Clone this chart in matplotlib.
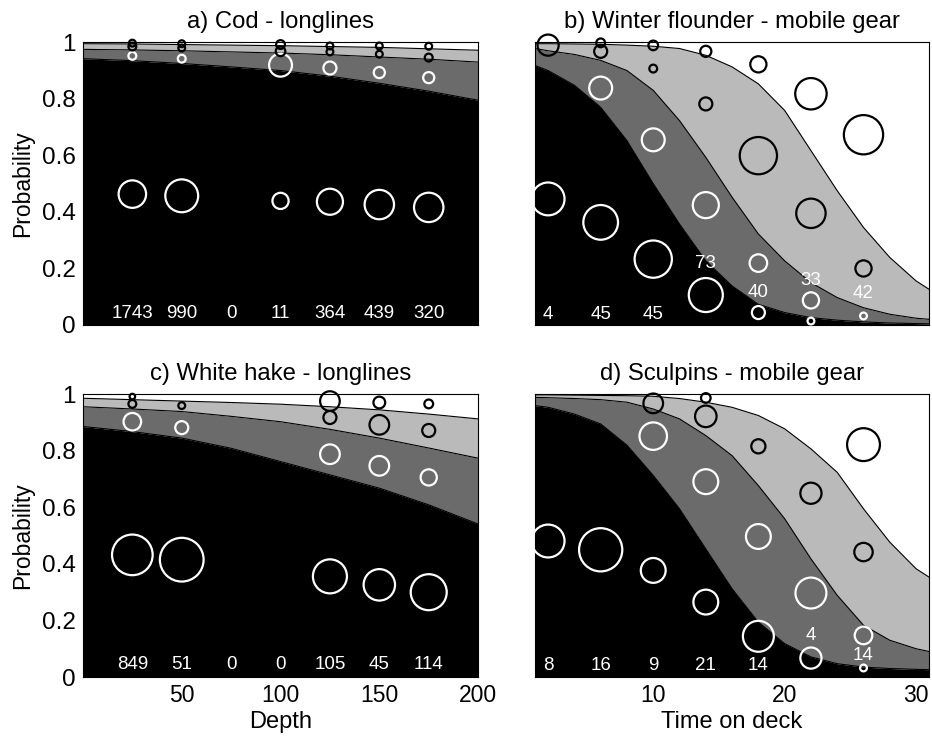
"""
Vitality-class probabilities vs depth (longlines) and time on deck (mobile gear).
Stacked bands = fitted cumulative probabilities, circles = observed class shares,
numbers = sample size per bin.
"""
import numpy as np
import matplotlib.pyplot as plt

plt.rcParams["font.family"] = ["Liberation Sans", "DejaVu Sans"]

# x grids of the fitted curves
DEPTH_GRID = [0, 25, 50, 75, 100, 125, 150, 175, 200]
TIME_GRID = [1, 2, 4, 6, 8, 10, 12, 14, 16, 18, 20, 22, 24, 26, 28, 30, 31]

# ---- a) Cod - longlines ----
cod_cum1 = [0.942, 0.935, 0.925, 0.913, 0.900, 0.880, 0.855, 0.827, 0.795]
cod_cum2 = [0.975, 0.973, 0.970, 0.966, 0.962, 0.956, 0.948, 0.940, 0.930]
cod_cum3 = [0.995, 0.994, 0.992, 0.990, 0.988, 0.985, 0.982, 0.977, 0.972]
cod_bins = [25, 50, 75, 100, 125, 150, 175]
cod_n = ["1743", "990", "0", "11", "364", "439", "320"]
cod_n_y = [0.041] * 7
cod_obs_x = [25, 50, 100, 125, 150, 175]
cod_obs_y = [
    [0.463, 0.457, 0.439, 0.436, 0.426, 0.416],
    [0.952, 0.942, 0.919, 0.909, 0.893, 0.875],
    [0.985, 0.980, 0.968, 0.966, 0.958, 0.946],
    [0.997, 0.995, 0.992, 0.987, 0.987, 0.986],
]
cod_obs_share = [
    [0.49, 0.70, 0.17, 0.44, 0.56, 0.56],
    [0.04, 0.04, 0.34, 0.11, 0.08, 0.08],
    [0.04, 0.03, 0.06, 0.03, 0.03, 0.04],
    [0.03, 0.03, 0.05, 0.03, 0.03, 0.03],
]

# ---- b) Winter flounder - mobile gear ----
wfl_cum1 = [0.918, 0.900, 0.848, 0.770, 0.652, 0.500, 0.357, 0.227, 0.138,
            0.073, 0.044, 0.026, 0.017, 0.011, 0.007, 0.005, 0.004]
wfl_cum2 = [0.978, 0.970, 0.957, 0.936, 0.900, 0.830, 0.723, 0.593, 0.452,
            0.322, 0.227, 0.150, 0.097, 0.061, 0.038, 0.024, 0.020]
wfl_cum3 = [0.995, 0.995, 0.994, 0.993, 0.990, 0.986, 0.978, 0.954, 0.913,
            0.853, 0.759, 0.617, 0.475, 0.345, 0.239, 0.156, 0.126]
wfl_bins = [2, 6, 10, 14, 18, 22, 26]
wfl_n = ["4", "45", "45", "73", "40", "33", "42"]
wfl_n_y = [0.038, 0.038, 0.038, 0.217, 0.115, 0.158, 0.112]
wfl_obs_x = [2, 6, 10, 14, 18, 22, 26]
nan = np.nan
wfl_obs_y = [
    [0.446, 0.363, 0.233, 0.106, 0.044, 0.014, 0.032],
    [nan, 0.838, 0.655, 0.424, 0.219, 0.087, nan],
    [nan, 0.968, 0.907, 0.782, 0.599, 0.395, 0.200],
    [0.990, 0.998, 0.989, 0.968, 0.922, 0.818, 0.673],
]
wfl_obs_share = [
    [0.70, 0.78, 0.90, 0.75, 0.11, 0.03, 0.03],
    [nan, 0.34, 0.34, 0.44, 0.20, 0.17, nan],
    [nan, 0.11, 0.04, 0.11, 0.90, 0.56, 0.17],
    [0.29, 0.05, 0.06, 0.08, 0.17, 0.64, 1.00],
]

# ---- c) White hake - longlines ----
whk_cum1 = [0.886, 0.868, 0.845, 0.809, 0.762, 0.715, 0.668, 0.609, 0.541]
whk_cum2 = [0.956, 0.948, 0.939, 0.922, 0.903, 0.876, 0.845, 0.810, 0.774]
whk_cum3 = [0.986, 0.981, 0.976, 0.971, 0.965, 0.956, 0.945, 0.930, 0.913]
whk_bins = [25, 50, 75, 100, 125, 150, 175]
whk_n = ["849", "51", "0", "0", "105", "45", "114"]
whk_n_y = [0.044] * 7
whk_obs_x = [25, 50, 125, 150, 175]
whk_obs_y = [
    [0.432, 0.415, 0.356, 0.326, 0.300],
    [0.903, 0.882, 0.788, 0.747, 0.706],
    [0.966, 0.960, 0.918, 0.892, 0.872],
    [0.992, nan, 0.976, 0.971, 0.966],
]
whk_obs_share = [
    [1.07, 1.24, 0.75, 0.64, 0.84],
    [0.20, 0.11, 0.25, 0.25, 0.17],
    [0.04, 0.03, 0.11, 0.25, 0.11],
    [0.02, nan, 0.25, 0.09, 0.05],
]

# ---- d) Sculpins - mobile gear ----
scu_cum1 = [0.960, 0.954, 0.930, 0.895, 0.820, 0.713, 0.595, 0.453, 0.312,
            0.194, 0.118, 0.071, 0.047, 0.035, 0.030, 0.027, 0.026]
scu_cum2 = [0.989, 0.988, 0.985, 0.981, 0.972, 0.948, 0.913, 0.854, 0.783,
            0.677, 0.560, 0.418, 0.289, 0.183, 0.130, 0.100, 0.090]
scu_cum3 = [0.998, 0.998, 0.997, 0.996, 0.995, 0.993, 0.985, 0.972, 0.954,
            0.925, 0.878, 0.807, 0.724, 0.595, 0.477, 0.383, 0.353]
scu_bins = [2, 6, 10, 14, 18, 22, 26]
scu_n = ["8", "16", "9", "21", "14", "4", "14"]
scu_n_y = [0.041, 0.041, 0.041, 0.041, 0.041, 0.147, 0.077]
scu_obs_x = [2, 6, 10, 14, 18, 22, 26]
scu_obs_y = [
    [0.481, 0.450, 0.377, 0.265, 0.144, 0.067, 0.032],
    [nan, nan, 0.852, 0.691, 0.497, 0.297, 0.147],
    [nan, nan, 0.968, 0.922, 0.816, 0.650, 0.442],
    [nan, nan, nan, 0.987, nan, nan, 0.822],
]
scu_obs_share = [
    [0.70, 1.21, 0.40, 0.40, 0.62, 0.29, 0.03],
    [nan, nan, 0.49, 0.40, 0.40, 0.62, 0.20],
    [nan, nan, 0.25, 0.30, 0.13, 0.29, 0.22],
    [nan, nan, nan, 0.06, nan, nan, 0.70],
]

BAND_COLORS = ["#000000", "#6b6b6b", "#bababa"]
CLASS_EDGE = ["white", "white", "black", "black"]
MARKER_SCALE = 800  # points^2 for share == 1


def draw_panel(ax, grid, cums, bins, n_labels, n_y, obs_x, obs_y, obs_share):
    grid = np.asarray(grid, dtype=float)
    lower = np.zeros_like(grid)
    for cum, col in zip(cums, BAND_COLORS):
        upper = np.asarray(cum, dtype=float)
        ax.fill_between(grid, lower, upper, color=col, linewidth=0, zorder=1)
        lower = upper
    for cum in cums:
        ax.plot(grid, cum, color="black", linewidth=0.8, zorder=2)

    for k in range(4):
        y = np.asarray(obs_y[k], dtype=float)
        s = np.asarray(obs_share[k], dtype=float) * MARKER_SCALE
        ok = ~np.isnan(y)
        ax.scatter(np.asarray(obs_x)[ok], y[ok], s=s[ok], facecolors="none",
                   edgecolors=CLASS_EDGE[k], linewidths=1.6, zorder=4,
                   clip_on=False)

    for x, lab, y in zip(bins, n_labels, n_y):
        ax.text(x, y, lab, color="white", fontsize=13.5, ha="center",
                va="center", zorder=5)

    ax.set_ylim(0, 1)
    ax.set_facecolor("white")
    ax.tick_params(length=0)
    ax.tick_params(axis="x", labelsize=16.5, pad=5)
    ax.tick_params(axis="y", labelsize=17.5, pad=5)
    for sp in ax.spines.values():
        sp.set_linewidth(0.8)
        sp.set_zorder(3)


def main() -> None:
    fig = plt.figure(figsize=(9.32, 7.42), dpi=100)
    ax_a = fig.add_axes([0.089, 0.562, 0.424, 0.381])
    ax_b = fig.add_axes([0.574, 0.562, 0.423, 0.381])
    ax_c = fig.add_axes([0.089, 0.0876, 0.424, 0.381])
    ax_d = fig.add_axes([0.574, 0.0876, 0.423, 0.381])

    draw_panel(ax_a, DEPTH_GRID, [cod_cum1, cod_cum2, cod_cum3], cod_bins,
               cod_n, cod_n_y, cod_obs_x, cod_obs_y, cod_obs_share)
    draw_panel(ax_b, TIME_GRID, [wfl_cum1, wfl_cum2, wfl_cum3], wfl_bins,
               wfl_n, wfl_n_y, wfl_obs_x, wfl_obs_y, wfl_obs_share)
    draw_panel(ax_c, DEPTH_GRID, [whk_cum1, whk_cum2, whk_cum3], whk_bins,
               whk_n, whk_n_y, whk_obs_x, whk_obs_y, whk_obs_share)
    draw_panel(ax_d, TIME_GRID, [scu_cum1, scu_cum2, scu_cum3], scu_bins,
               scu_n, scu_n_y, scu_obs_x, scu_obs_y, scu_obs_share)

    titles = ["a) Cod - longlines", "b) Winter flounder - mobile gear",
              "c) White hake - longlines", "d) Sculpins - mobile gear"]
    for ax, t in zip([ax_a, ax_b, ax_c, ax_d], titles):
        ax.set_title(t, fontsize=17.2, pad=10)

    yt = [0, 0.2, 0.4, 0.6, 0.8, 1]
    ylab = ["0", "0.2", "0.4", "0.6", "0.8", "1"]
    for ax in (ax_a, ax_c):
        ax.set_xlim(0, 200)
        ax.set_xticks([50, 100, 150, 200])
        ax.set_yticks(yt)
        ax.set_yticklabels(ylab)
        ax.set_ylabel("Probability", fontsize=16.5, labelpad=6)
    for ax in (ax_b, ax_d):
        ax.set_xlim(1, 31)
        ax.set_xticks([10, 20, 30])
        ax.set_yticks(yt)
        ax.set_yticklabels([])
    for ax in (ax_a, ax_b):
        ax.set_xticklabels([])

    ax_c.set_xlabel("Depth", fontsize=17, labelpad=3)
    ax_d.set_xlabel("Time on deck", fontsize=17, labelpad=3)

    fig.savefig("out.png", dpi=100)
    plt.close(fig)


if __name__ == "__main__":
    main()
